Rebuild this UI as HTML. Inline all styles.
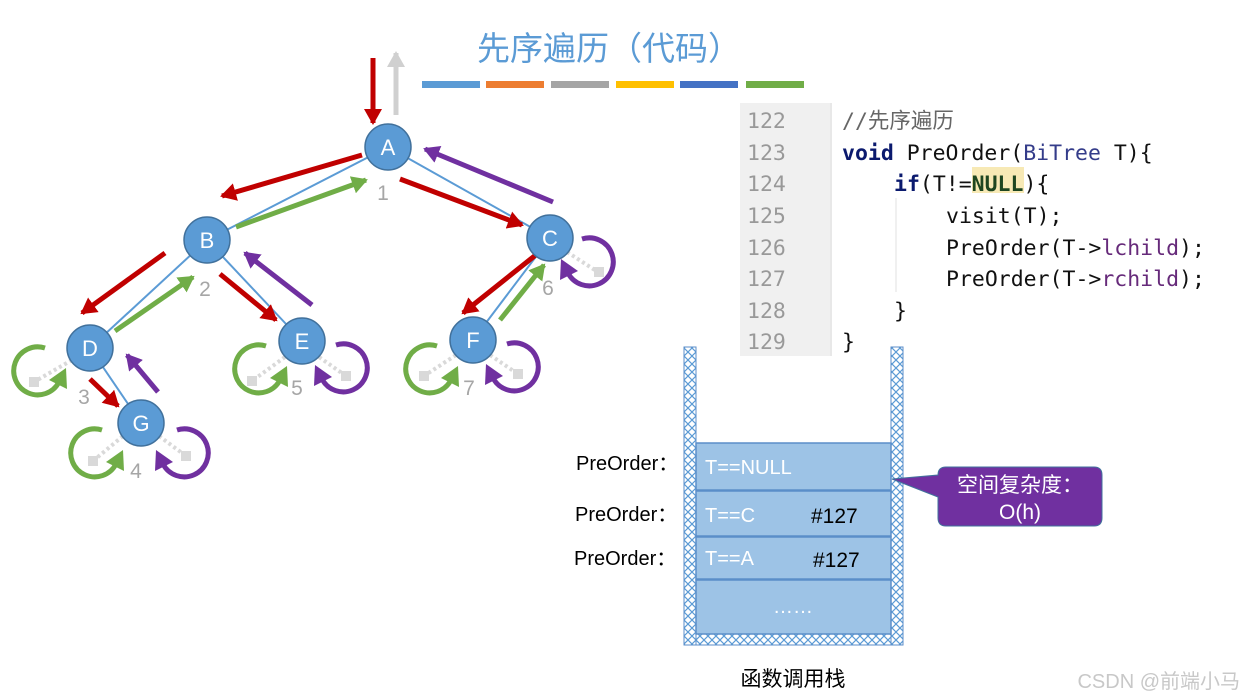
<!DOCTYPE html>
<html><head><meta charset="utf-8"><style>
html,body{margin:0;padding:0;background:#fff;}
svg{display:block;}
.mono{font-family:"DejaVu Sans Mono","Liberation Mono","Noto Sans CJK SC",monospace;font-size:21.5px;}
</style></head><body>
<svg width="1247" height="699" viewBox="0 0 1247 699" xmlns="http://www.w3.org/2000/svg">
<defs>
<marker id="mr" markerUnits="userSpaceOnUse" markerWidth="18" markerHeight="18" refX="14" refY="9" orient="auto"><path d="M0,0 L16,9 L0,18 z" fill="#c00000"/></marker>
<marker id="mg" markerUnits="userSpaceOnUse" markerWidth="18" markerHeight="18" refX="14" refY="9" orient="auto"><path d="M0,0 L16,9 L0,18 z" fill="#70ad47"/></marker>
<marker id="mp" markerUnits="userSpaceOnUse" markerWidth="18" markerHeight="18" refX="14" refY="9" orient="auto"><path d="M0,0 L16,9 L0,18 z" fill="#7030a0"/></marker>
<marker id="mgr" markerUnits="userSpaceOnUse" markerWidth="18" markerHeight="18" refX="14" refY="9" orient="auto"><path d="M0,0 L16,9 L0,18 z" fill="#d0d0d0"/></marker>
<pattern id="hatch" width="8" height="8" patternUnits="userSpaceOnUse"><rect width="8" height="8" fill="#fff"/><path d="M0,0 L8,8 M8,0 L0,8" stroke="#5b9bd5" stroke-width="1.2"/></pattern>
<g id="gl"><path d="M7,-23 A24 24 0 1 0 21,11" fill="none" stroke="#70ad47" stroke-width="5"/><polygon points="28,-3 29,18 11,9" fill="#70ad47"/></g>
<g id="pl"><path d="M-7,-23 A24 24 0 1 1 -21,11" fill="none" stroke="#7030a0" stroke-width="5"/><polygon points="-28,-3 -29,18 -11,9" fill="#7030a0"/></g>
</defs>

<text x="609" y="60" text-anchor="middle" font-family="Liberation Sans,'Noto Sans CJK SC',sans-serif" font-size="33" fill="#5b9bd5">先序遍历（代码）</text>
<rect x="422" y="81" width="58" height="7" fill="#5b9bd5"/>
<rect x="486" y="81" width="58" height="7" fill="#ed7d31"/>
<rect x="551" y="81" width="58" height="7" fill="#a5a5a5"/>
<rect x="616" y="81" width="58" height="7" fill="#ffc000"/>
<rect x="680" y="81" width="58" height="7" fill="#4472c4"/>
<rect x="746" y="81" width="58" height="7" fill="#70ad47"/>

<g stroke="#5b9bd5" stroke-width="2">
<line x1="388" y1="147" x2="207" y2="240"/>
<line x1="388" y1="147" x2="550" y2="238"/>
<line x1="207" y1="240" x2="90" y2="348"/>
<line x1="207" y1="240" x2="302" y2="341"/>
<line x1="550" y1="238" x2="473" y2="340"/>
<line x1="90" y1="348" x2="141" y2="423"/>
</g>

<g stroke="#d9d9d9" stroke-width="4" stroke-dasharray="3,3" fill="#d9d9d9">
<line x1="72" y1="360" x2="34" y2="382"/>
<line x1="123" y1="436" x2="93" y2="461"/>
<line x1="159" y1="436" x2="186" y2="456"/>
<line x1="285" y1="357" x2="252" y2="381"/>
<line x1="319" y1="357" x2="346" y2="376"/>
<line x1="456" y1="355" x2="424" y2="376"/>
<line x1="490" y1="355" x2="518" y2="374"/>
<line x1="567" y1="252" x2="598" y2="272"/>
</g>
<g fill="#d9d9d9">
<rect x="29" y="377" width="10" height="10"/>
<rect x="88" y="456" width="10" height="10"/>
<rect x="181" y="451" width="10" height="10"/>
<rect x="247" y="376" width="10" height="10"/>
<rect x="341" y="371" width="10" height="10"/>
<rect x="419" y="371" width="10" height="10"/>
<rect x="513" y="369" width="10" height="10"/>
<rect x="594" y="267" width="10" height="10"/>
</g>

<line x1="373" y1="58" x2="373" y2="123" stroke="#c00000" stroke-width="5" marker-end="url(#mr)"/>
<line x1="396" y1="115" x2="396" y2="53" stroke="#d0d0d0" stroke-width="5" marker-end="url(#mgr)"/>
<g stroke-width="5">
<line x1="362" y1="155" x2="222" y2="196" stroke="#c00000" marker-end="url(#mr)"/>
<line x1="236" y1="227" x2="366" y2="180" stroke="#70ad47" marker-end="url(#mg)"/>
<line x1="400" y1="179" x2="522" y2="225" stroke="#c00000" marker-end="url(#mr)"/>
<line x1="553" y1="202" x2="425" y2="149" stroke="#7030a0" marker-end="url(#mp)"/>
<line x1="165" y1="253" x2="82" y2="313" stroke="#c00000" marker-end="url(#mr)"/>
<line x1="115" y1="331" x2="193" y2="277" stroke="#70ad47" marker-end="url(#mg)"/>
<line x1="220" y1="274" x2="276" y2="320" stroke="#c00000" marker-end="url(#mr)"/>
<line x1="312" y1="305" x2="245" y2="253" stroke="#7030a0" marker-end="url(#mp)"/>
<line x1="542" y1="250" x2="463" y2="313" stroke="#c00000" marker-end="url(#mr)"/>
<line x1="500" y1="320" x2="544" y2="265" stroke="#70ad47" marker-end="url(#mg)"/>
<line x1="90" y1="379" x2="118" y2="406" stroke="#c00000" marker-end="url(#mr)"/>
<line x1="158" y1="392" x2="127" y2="355" stroke="#7030a0" marker-end="url(#mp)"/>
</g>

<use href="#gl" transform="translate(38,371)"/>
<use href="#gl" transform="translate(95,453)"/>
<use href="#pl" transform="translate(184,453)"/>
<use href="#gl" transform="translate(259,369)"/>
<use href="#pl" transform="translate(343,368)"/>
<use href="#gl" transform="translate(430,369)"/>
<use href="#pl" transform="translate(514,367)"/>
<use href="#pl" transform="translate(589,262)"/>

<g fill="#5b9bd5" stroke="#41719c" stroke-width="1.5">
<circle cx="388" cy="147" r="23"/>
<circle cx="207" cy="240" r="23"/>
<circle cx="550" cy="238" r="23"/>
<circle cx="90" cy="348" r="23"/>
<circle cx="302" cy="341" r="23"/>
<circle cx="473" cy="340" r="23"/>
<circle cx="141" cy="423" r="23"/>
</g>
<g fill="#fff" font-family="Liberation Sans,sans-serif" font-size="22" text-anchor="middle">
<text x="388" y="155">A</text><text x="207" y="248">B</text><text x="550" y="246">C</text>
<text x="90" y="356">D</text><text x="302" y="349">E</text><text x="473" y="348">F</text><text x="141" y="431">G</text>
</g>
<g fill="#a6a6a6" font-family="Liberation Sans,sans-serif" font-size="21" text-anchor="middle">
<text x="383" y="200">1</text><text x="205" y="296">2</text><text x="84" y="404">3</text><text x="136" y="478">4</text>
<text x="297" y="395">5</text><text x="548" y="295">6</text><text x="469" y="395">7</text>
</g>

<rect x="740" y="103" width="92" height="253" fill="#f0f0f0"/>
<line x1="831" y1="103" x2="831" y2="356" stroke="#e0e0e0"/>
<line x1="896" y1="198" x2="896" y2="292" stroke="#e0e0e0"/>
<g class="mono" fill="#999">
<text x="747" y="128">122</text><text x="747" y="160">123</text><text x="747" y="191">124</text><text x="747" y="223">125</text>
<text x="747" y="255">126</text><text x="747" y="286">127</text><text x="747" y="318">128</text><text x="747" y="349">129</text>
</g>
<rect x="972" y="167" width="52" height="26" fill="#f7e9b5"/>
<g class="mono" fill="#111">
<text x="842" y="128" fill="#666">//先序遍历</text>
<text x="842" y="160"><tspan fill="#0b1a6e" font-weight="bold">void</tspan> PreOrder(<tspan fill="#343c8a">BiTree</tspan> T){</text>
<text x="894" y="191"><tspan fill="#0b1a6e" font-weight="bold">if</tspan>(T!=<tspan fill="#1e4620" font-weight="bold">NULL</tspan>){</text>
<text x="946" y="223">visit(T);</text>
<text x="946" y="255">PreOrder(T-&gt;<tspan fill="#662a7a">lchild</tspan>);</text>
<text x="946" y="286">PreOrder(T-&gt;<tspan fill="#662a7a">rchild</tspan>);</text>
<text x="894" y="318">}</text>
<text x="842" y="349">}</text>
</g>

<rect x="684" y="347" width="12" height="298" fill="url(#hatch)" stroke="#5b8ec9" stroke-width="1"/>
<rect x="891" y="347" width="12" height="298" fill="url(#hatch)" stroke="#5b8ec9" stroke-width="1"/>
<rect x="696" y="634" width="195" height="11" fill="url(#hatch)" stroke="#5b8ec9" stroke-width="1"/>
<g fill="#9dc3e6" stroke="#5b8ec9" stroke-width="1.5">
<rect x="696" y="443" width="195" height="47"/>
<rect x="696" y="491" width="195" height="45"/>
<rect x="696" y="537" width="195" height="42"/>
<rect x="696" y="580" width="195" height="54"/>
</g>
<g font-family="Liberation Sans,sans-serif" font-size="20">
<text x="705" y="474" fill="#fff">T==NULL</text>
<text x="705" y="522" fill="#fff">T==C</text>
<text x="705" y="565" fill="#fff">T==A</text>
<text x="811" y="523" fill="#000" font-size="21">#127</text>
<text x="813" y="567" fill="#000" font-size="21">#127</text>
<text x="793" y="613" fill="#fff" text-anchor="middle">……</text>
</g>
<g font-family="Liberation Sans,'Noto Sans CJK SC',sans-serif" font-size="20" fill="#000">
<text x="576" y="470">PreOrder：</text>
<text x="575" y="521">PreOrder：</text>
<text x="574" y="565">PreOrder：</text>
</g>
<text x="793" y="686" text-anchor="middle" font-family="'Noto Sans CJK SC',sans-serif" font-size="21" fill="#000">函数调用栈</text>

<path d="M946,467 H1094 Q1102,467 1102,475 V518 Q1102,526 1094,526 H946 Q938,526 938,518 V497 L892,479 L938,475 Q938,467 946,467 Z" fill="#7030a0" stroke="#41719c" stroke-width="1"/>
<text x="1020" y="492" text-anchor="middle" font-family="'Noto Sans CJK SC',sans-serif" font-size="21" fill="#fff">空间复杂度：</text>
<text x="1020" y="519" text-anchor="middle" font-family="Liberation Sans,sans-serif" font-size="21" fill="#fff">O(h)</text>

<text x="1240" y="688" text-anchor="end" font-family="Liberation Sans,'Noto Sans CJK SC',sans-serif" font-size="20" fill="#c8c8c8">CSDN @前端小马</text>
</svg>
</body></html>
